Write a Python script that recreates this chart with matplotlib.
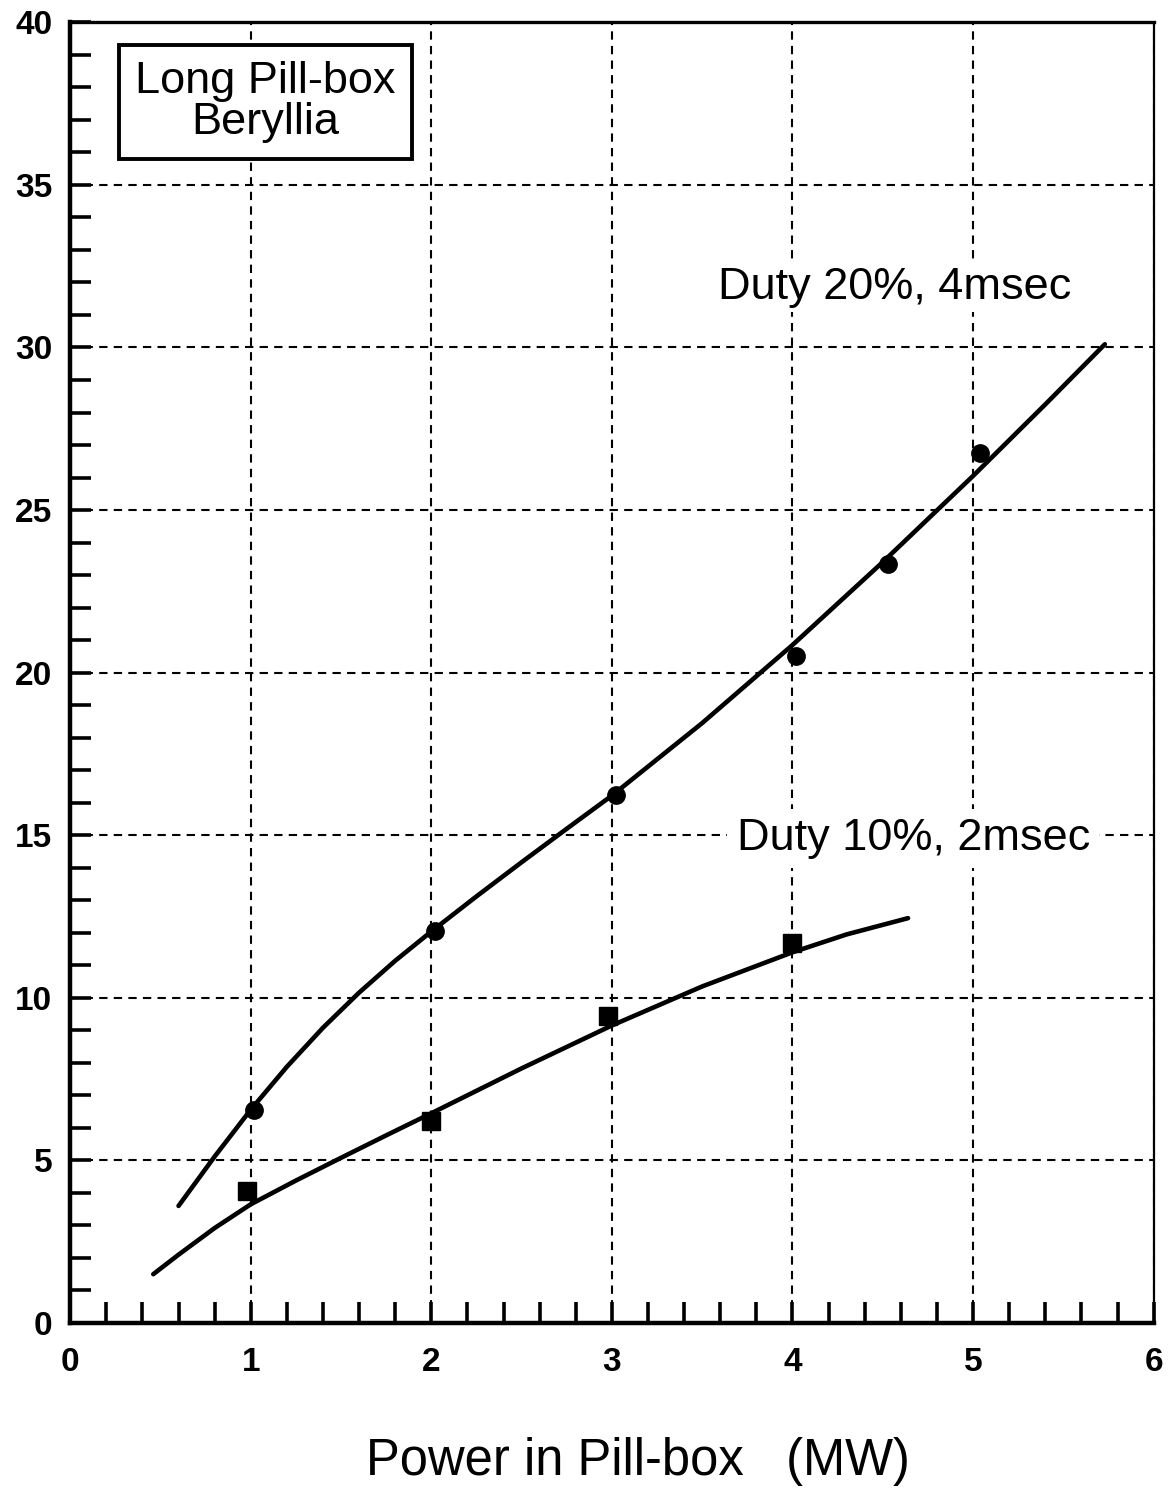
import matplotlib
matplotlib.use("Agg")
import matplotlib.pyplot as plt
from matplotlib.ticker import MultipleLocator

plt.rcParams['font.family'] = ['Liberation Sans', 'DejaVu Sans']

# Measured points
duty20_x = [1.02, 2.02, 3.02, 4.02, 4.53, 5.04]
duty20_y = [6.55, 12.05, 16.25, 20.5, 23.35, 26.75]
duty10_x = [0.98, 2.0, 2.98, 4.0]
duty10_y = [4.06, 6.2, 9.45, 11.7]

# Hand-drawn fit curves
fit20_x = [0.60, 0.8, 1.0, 1.2, 1.4, 1.6, 1.8, 2.0, 2.25, 2.5, 2.75, 3.0,
           3.5, 4.0, 4.5, 5.0, 5.4, 5.73]
fit20_y = [3.6, 5.12, 6.56, 7.88, 9.08, 10.16, 11.14, 12.04, 13.12, 14.17, 15.2, 16.22,
           18.45, 20.85, 23.4, 26.05, 28.25, 30.1]
fit10_x = [0.46, 0.6, 0.8, 1.0, 1.25, 1.5, 1.75, 2.0, 2.5, 3.0, 3.5, 4.0, 4.3, 4.64]
fit10_y = [1.5, 2.1, 2.92, 3.65, 4.38, 5.08, 5.77, 6.45, 7.83, 9.15, 10.35, 11.4, 11.95, 12.45]

x_ticks = [0, 1, 2, 3, 4, 5, 6]
y_ticks = [0, 5, 10, 15, 20, 25, 30, 35, 40]

fig = plt.figure(figsize=(11.7, 14.89), dpi=100)
ax = fig.add_axes([0.060, 0.1115, 0.926, 0.8735])
ax.set_xlim(0, 6)
ax.set_ylim(0, 40)

ax.grid(True, which='major', linestyle=(0, (4, 3)), color='black', linewidth=1.5)
ax.set_axisbelow(True)

ax.plot(fit20_x, fit20_y, color='black', lw=3.3, solid_capstyle='round', solid_joinstyle='round', zorder=3)
ax.plot(fit10_x, fit10_y, color='black', lw=3.3, solid_capstyle='round', solid_joinstyle='round', zorder=3)
ax.plot(duty20_x, duty20_y, 'o', color='black', ms=12.5, zorder=4)
ax.plot(duty10_x, duty10_y, 's', color='black', ms=13, zorder=4)

ax.xaxis.set_minor_locator(MultipleLocator(0.2))
ax.yaxis.set_minor_locator(MultipleLocator(1))
ax.set_xticks(x_ticks)
ax.set_yticks(y_ticks)
ax.set_xticklabels([str(v) for v in x_ticks])
ax.set_yticklabels([str(v) for v in y_ticks])
ax.tick_params(which='both', direction='in', length=15, width=2.6, color='black')
ax.tick_params(axis='both', which='major', labelsize=24)
ax.tick_params(axis='x', which='major', pad=17)
ax.tick_params(axis='y', which='major', pad=13)
for lbl in ax.get_xticklabels() + ax.get_yticklabels():
    lbl.set_fontweight('bold')
ax.tick_params(top=False, right=False, which='both')

ax.spines['left'].set_linewidth(3.2)
ax.spines['bottom'].set_linewidth(3.2)
ax.spines['top'].set_linewidth(2.4)
ax.spines['right'].set_linewidth(1.6)
ax.spines['right'].set_linestyle((0, (1, 1)))

fig.text(638 / 1170, 1 - 1475 / 1489, 'Power in Pill-box   (MW)', fontsize=36.5,
         ha='center', va='baseline')

ax.text(1.08, 37.55, 'Long Pill-box\nBeryllia', fontsize=32.5, ha='center', va='center',
        linespacing=0.98,
        bbox=dict(boxstyle='square,pad=0.36', facecolor='white', edgecolor='black', linewidth=2.8),
        zorder=5)
ax.text(3.59, 31.85, 'Duty 20%, 4msec', fontsize=32.5, ha='left', va='center',
        bbox=dict(boxstyle='square,pad=0.1', facecolor='white', edgecolor='none'), zorder=5)
ax.text(3.69, 14.9, 'Duty 10%, 2msec', fontsize=32.5, ha='left', va='center',
        bbox=dict(boxstyle='square,pad=0.2', facecolor='white', edgecolor='none'), zorder=5)

fig.savefig('out.png', dpi=100)
